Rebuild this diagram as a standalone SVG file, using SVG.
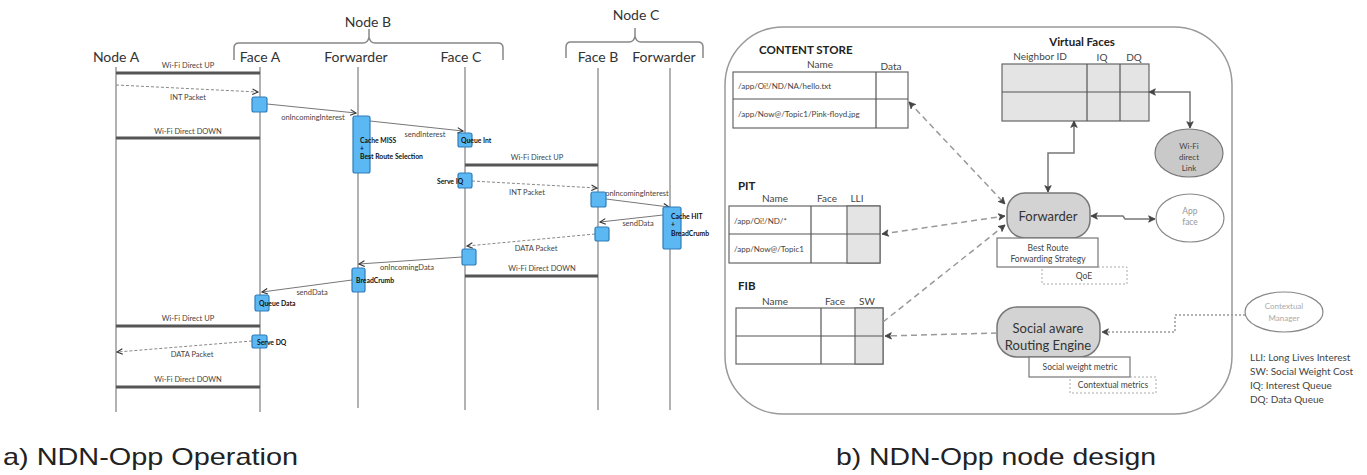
<svg xmlns="http://www.w3.org/2000/svg" width="1367" height="475" viewBox="0 0 1367 475">
<style>
text{font-family:Lato,"Liberation Sans",sans-serif;fill:#333}
.hdr{font-size:14px;text-anchor:middle;fill:#333}
.lab{font-size:7.5px;text-anchor:middle;fill:#444}
.bx{font-size:6.8px;font-weight:bold;fill:#111}
.life{stroke:#999;stroke-width:1.5;fill:none}
.brace{stroke:#888;stroke-width:1.5;fill:none}
.bar{stroke:#555;stroke-width:3}
.act{fill:#5cb8f2;stroke:#2f7cba;stroke-width:1.2}
.msg{stroke:#777;stroke-width:1;fill:none;marker-end:url(#ah)}
.dmsg{stroke:#888;stroke-width:1;fill:none;stroke-dasharray:3 2;marker-end:url(#ah)}
.tbl{fill:#fff;stroke:#666;stroke-width:1.2}
.gfill{fill:#e4e4e4;stroke:#666;stroke-width:1.2}
.ln{stroke:#555;stroke-width:1.2}
.ttl{font-size:11.5px;font-weight:bold;fill:#222}
.col{font-size:10px;text-anchor:middle;fill:#444}
.cell{font-size:8px;fill:#444}
.conn{stroke:#777;stroke-width:1.5;fill:none}
.dash{stroke:#999;stroke-width:1.5;fill:none;stroke-dasharray:6 4}
.dot{stroke:#999;stroke-width:1.5;fill:none;stroke-dasharray:2 2}
.small{font-size:8.5px;text-anchor:middle;fill:#444}
.leg{font-size:10px;fill:#444}
.cap{font-family:"Liberation Sans",Arial,sans-serif;font-size:24px;fill:#222}
</style>
<defs>
<marker id="ah" viewBox="0 0 10 10" refX="9" refY="5" markerWidth="7" markerHeight="7" orient="auto-start-reverse" markerUnits="userSpaceOnUse">
<path d="M1,1 L9,5 L1,9" fill="none" stroke="#333" stroke-width="1.6"/>
</marker>
<marker id="ah2" viewBox="0 0 10 10" refX="9" refY="5" markerWidth="8" markerHeight="8" orient="auto-start-reverse" markerUnits="userSpaceOnUse">
<path d="M1,1 L9,5 L1,9 L3,5 Z" fill="#444" stroke="#444" stroke-width="1"/>
</marker>
</defs>

<!-- ===== a) sequence diagram ===== -->
<g id="headers">
<text class="hdr" x="116" y="62">Node A</text>
<text class="hdr" x="368" y="27">Node B</text>
<text class="hdr" x="260" y="62">Face A</text>
<text class="hdr" x="356" y="62">Forwarder</text>
<text class="hdr" x="461" y="62">Face C</text>
<text class="hdr" x="636" y="20">Node C</text>
<text class="hdr" x="598" y="62">Face B</text>
<text class="hdr" x="664" y="62">Forwarder</text>
<path class="brace" d="M234,60 L234,48 Q234,43 239,43 L363,43 Q368,43 369,37 L369,29 M369,37 Q370,43 375,43 L498,43 Q503,43 503,48 L503,60"/>
<path class="brace" d="M566,58 L566,47 Q566,42 571,42 L629,42 Q634,42 635,36 L635,28 M635,36 Q636,42 641,42 L698,42 Q703,42 703,47 L703,58"/>
</g>

<g id="lifelines">
<line class="life" x1="116" y1="67" x2="116" y2="412"/>
<line class="life" x1="260" y1="67" x2="260" y2="412"/>
<line class="life" x1="358" y1="67" x2="358" y2="408"/>
<line class="life" x1="465" y1="67" x2="465" y2="410"/>
<line class="life" x1="598" y1="68" x2="598" y2="410"/>
<line class="life" x1="670" y1="68" x2="670" y2="410"/>
</g>

<g id="links">
<line class="bar" x1="116" y1="73" x2="260" y2="73"/>
<text class="lab" x="188" y="68">Wi-Fi Direct UP</text>
<line class="bar" x1="116" y1="138" x2="260" y2="138"/>
<text class="lab" x="188" y="134">Wi-Fi Direct DOWN</text>
<line class="bar" x1="465" y1="165" x2="598" y2="165"/>
<text class="lab" x="537" y="160">Wi-Fi Direct UP</text>
<line class="bar" x1="465" y1="276" x2="598" y2="276"/>
<text class="lab" x="542" y="271">Wi-Fi Direct DOWN</text>
<line class="bar" x1="116" y1="326" x2="260" y2="326"/>
<text class="lab" x="188" y="321">Wi-Fi Direct UP</text>
<line class="bar" x1="116" y1="387" x2="260" y2="387"/>
<text class="lab" x="188" y="382">Wi-Fi Direct DOWN</text>
</g>

<g id="messages">
<path class="dmsg" d="M116,85 L258,92"/>
<text class="lab" x="188" y="100">INT Packet</text>
<path class="msg" d="M267,104 L356,113"/>
<text class="lab" x="313" y="120">onIncomingInterest</text>
<path class="msg" d="M370,121 L463,131"/>
<text class="lab" x="425" y="137">sendInterest</text>
<path class="dmsg" d="M472,181 L597,188"/>
<text class="lab" x="527" y="195">INT Packet</text>
<path class="msg" d="M606,199 L669,207"/>
<text class="lab" x="637" y="196">onIncomingInterest</text>
<path class="msg" d="M663,215 L600,222"/>
<text class="lab" x="638" y="226">sendData</text>
<path class="dmsg" d="M595,234 L467,246"/>
<text class="lab" x="536" y="251">DATA Packet</text>
<path class="msg" d="M462,257 L359,264"/>
<text class="lab" x="407" y="270">onIncomingData</text>
<path class="msg" d="M352,280 L262,292"/>
<text class="lab" x="312" y="295">sendData</text>
<path class="dmsg" d="M252,341 L117,352"/>
<text class="lab" x="192" y="357">DATA Packet</text>
</g>

<g id="activations">
<rect class="act" x="252" y="97" width="15" height="15" rx="2"/>
<rect class="act" x="353" y="116" width="17" height="57" rx="2"/>
<text class="bx" x="360" y="143">Cache MISS</text>
<text class="bx" x="360" y="151">+</text>
<text class="bx" x="360" y="159">Best Route Selection</text>
<rect class="act" x="458" y="133" width="14" height="14" rx="2"/>
<text class="bx" x="461" y="143">Queue Int</text>
<rect class="act" x="458" y="173" width="14" height="15" rx="2"/>
<text class="bx" x="437" y="184">Serve IQ</text>
<rect class="act" x="591" y="192" width="15" height="15" rx="2"/>
<rect class="act" x="663" y="207" width="18" height="42" rx="2"/>
<text class="bx" x="671" y="219">Cache HIT</text>
<text class="bx" x="671" y="227">+</text>
<text class="bx" x="671" y="236">BreadCrumb</text>
<rect class="act" x="595" y="227" width="14" height="14" rx="2"/>
<rect class="act" x="462" y="249" width="14" height="16" rx="2"/>
<rect class="act" x="352" y="268" width="13" height="24" rx="2"/>
<text class="bx" x="356" y="283">BreadCrumb</text>
<rect class="act" x="255" y="295" width="14" height="16" rx="2"/>
<text class="bx" x="259" y="306">Queue Data</text>
<rect class="act" x="252" y="335" width="15" height="13" rx="2"/>
<text class="bx" x="257" y="345">Serve DQ</text>
</g>

<!-- ===== b) node design ===== -->
<g id="container">
<rect x="725" y="27" width="507" height="387" rx="58" fill="none" stroke="#999" stroke-width="1.5"/>
</g>

<g id="content-store">
<text class="ttl" x="759" y="54">CONTENT STORE</text>
<text class="col" x="820" y="68">Name</text>
<text class="col" x="891" y="70">Data</text>
<rect class="tbl" x="733" y="72" width="175" height="56"/>
<line class="ln" x1="876" y1="72" x2="876" y2="128"/>
<line class="ln" x1="733" y1="99" x2="908" y2="99"/>
<text class="cell" x="738" y="89">/app/Oi!/ND/NA/hello.txt</text>
<text class="cell" x="738" y="117">/app/Now@/Topic1/Pink-floyd.jpg</text>
</g>

<g id="virtual-faces">
<text class="ttl" x="1082" y="46" text-anchor="middle">Virtual Faces</text>
<text class="col" x="1040" y="60">Neighbor ID</text>
<text class="col" x="1102" y="61">IQ</text>
<text class="col" x="1134" y="61">DQ</text>
<rect class="gfill" x="1002" y="64" width="147" height="57"/>
<line class="ln" x1="1087" y1="64" x2="1087" y2="121"/>
<line class="ln" x1="1120" y1="64" x2="1120" y2="121"/>
<line class="ln" x1="1002" y1="92" x2="1149" y2="92"/>
</g>

<g id="wifi-link">
<ellipse cx="1189" cy="153" rx="34" ry="24" fill="#c9c9c9" stroke="#777" stroke-width="1.2"/>
<text class="small" x="1189" y="149" style="font-size:8px">Wi-Fi</text>
<text class="small" x="1189" y="160" style="font-size:8px">direct</text>
<text class="small" x="1189" y="171" style="font-size:8px">Link</text>
</g>

<g id="forwarder">
<rect x="1007" y="193" width="83" height="45" rx="18" fill="#d3d3d3" stroke="#777" stroke-width="1.5"/>
<text x="1048" y="221" text-anchor="middle" style="font-size:13px;fill:#333">Forwarder</text>
<rect x="997" y="238" width="101" height="29" fill="#fff" stroke="#777" stroke-width="1.2"/>
<text class="small" x="1048" y="251">Best Route</text>
<text class="small" x="1048" y="262">Forwarding Strategy</text>
<rect x="1042" y="267" width="85" height="17" fill="none" stroke="#aaa" stroke-width="1" stroke-dasharray="2 2"/>
<text class="small" x="1084" y="279">QoE</text>
</g>

<g id="app-face">
<ellipse cx="1190" cy="218" rx="34" ry="24" fill="#fff" stroke="#888" stroke-width="1.2"/>
<text class="small" x="1190" y="214" style="fill:#999">App</text>
<text class="small" x="1190" y="225" style="fill:#999">face</text>
</g>

<g id="pit">
<text class="ttl" x="738" y="190">PIT</text>
<text class="col" x="775" y="202">Name</text>
<text class="col" x="827" y="202">Face</text>
<text class="col" x="857" y="202">LLI</text>
<rect class="tbl" x="729" y="206" width="151" height="57"/>
<rect class="gfill" x="847" y="206" width="33" height="57"/>
<line class="ln" x1="811" y1="206" x2="811" y2="263"/>
<line class="ln" x1="729" y1="234" x2="880" y2="234"/>
<text class="cell" x="734" y="224">/app/Oi!/ND/*</text>
<text class="cell" x="734" y="252">/app/Now@/Topic1</text>
</g>

<g id="fib">
<text class="ttl" x="738" y="290">FIB</text>
<text class="col" x="775" y="305">Name</text>
<text class="col" x="835" y="305">Face</text>
<text class="col" x="867" y="305">SW</text>
<rect class="tbl" x="736" y="308" width="147" height="56"/>
<rect class="gfill" x="855" y="308" width="28" height="56"/>
<line class="ln" x1="821" y1="308" x2="821" y2="364"/>
<line class="ln" x1="736" y1="336" x2="883" y2="336"/>
</g>

<g id="routing-engine">
<rect x="997" y="307" width="103" height="50" rx="20" fill="#d3d3d3" stroke="#777" stroke-width="1.5"/>
<text x="1048" y="333" text-anchor="middle" style="font-size:13px;fill:#333">Social aware</text>
<text x="1048" y="350" text-anchor="middle" style="font-size:13px;fill:#333">Routing Engine</text>
<rect x="1029" y="357" width="101" height="20" fill="#fff" stroke="#777" stroke-width="1.2"/>
<text class="small" x="1080" y="370">Social weight metric</text>
<rect x="1070" y="377" width="86" height="16" fill="none" stroke="#aaa" stroke-width="1" stroke-dasharray="2 2"/>
<text class="small" x="1113" y="388">Contextual metrics</text>
</g>

<g id="contextual-manager">
<ellipse cx="1284" cy="312" rx="39" ry="20" fill="#fff" stroke="#888" stroke-width="1.2"/>
<text class="small" x="1284" y="309" style="font-size:8px;fill:#aaa">Contextual</text>
<text class="small" x="1284" y="321" style="font-size:8px;fill:#aaa">Manager</text>
</g>

<g id="legend">
<text class="leg" x="1250" y="361">LLI: Long Lives Interest</text>
<text class="leg" x="1250" y="375">SW: Social Weight Cost</text>
<text class="leg" x="1250" y="389">IQ: Interest Queue</text>
<text class="leg" x="1250" y="403">DQ: Data Queue</text>
</g>

<g id="connectors">
<path class="conn" d="M1149,92 L1190,92 L1190,128" marker-start="url(#ah2)" marker-end="url(#ah2)"/>
<path class="conn" d="M1074,121 L1074,153 L1048,153 L1048,192" marker-start="url(#ah2)" marker-end="url(#ah2)"/>
<path class="conn" d="M1091,216 L1123,216 L1125,219 L1155,219" marker-start="url(#ah2)" marker-end="url(#ah2)"/>
<path class="dash" d="M909,102 L1005,204" marker-start="url(#ah2)" marker-end="url(#ah2)"/>
<path class="dash" d="M882,234 L1005,216" marker-start="url(#ah2)" marker-end="url(#ah2)"/>
<path class="dash" d="M883,322 L1005,225" marker-end="url(#ah2)"/>
<path class="dash" d="M997,333 L885,336" marker-end="url(#ah2)"/>
<path class="dot" d="M1245,315 L1175,315 L1175,332 L1102,332" marker-end="url(#ah2)"/>
</g>

<g id="captions">
<text class="cap" x="3" y="465" textLength="295" lengthAdjust="spacingAndGlyphs">a) NDN-Opp Operation</text>
<text class="cap" x="836" y="465" textLength="320" lengthAdjust="spacingAndGlyphs">b) NDN-Opp node design</text>
</g>
</svg>
